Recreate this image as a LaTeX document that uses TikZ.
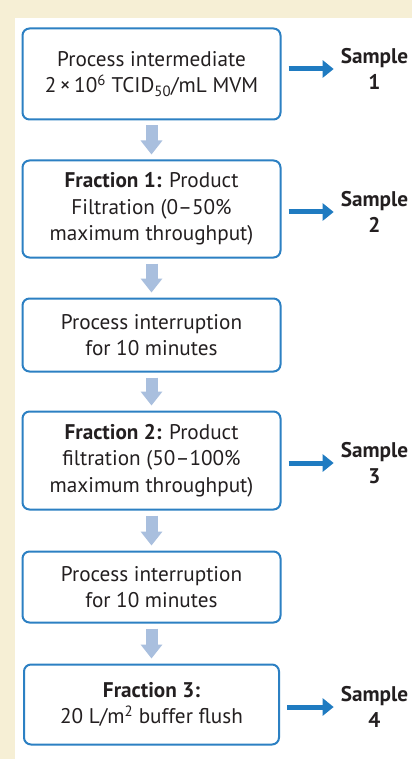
\documentclass[tikz,border=0pt]{standalone}
\usepackage{fontspec}
\setmainfont{PT Sans}
\usetikzlibrary{arrows.meta,calc}
\definecolor{beige}{HTML}{F6EFD5}
\definecolor{boxblue}{HTML}{2C80C3}
\definecolor{arrblue}{HTML}{1F7BC1}
\definecolor{lightarr}{HTML}{A9BFDE}
\definecolor{txt}{HTML}{231F20}
\begin{document}
\begin{tikzpicture}[x=1pt,y=-1pt,
  font=\fontsize{21.2}{26.5}\selectfont,
  procbox/.style={draw=boxblue, line width=2pt, fill=white, rounded corners=7pt,
    minimum width=258pt, align=center, text=txt, inner sep=0pt},
  sample/.style={font=\bfseries\fontsize{21.2}{26}\selectfont, align=center, text=txt, inner sep=0pt},
  samplearrow/.style={draw=arrblue, line width=5pt, -{Triangle[width=17pt,length=11pt]}},
  blockarrow/.style={draw=lightarr, line width=12pt, -{Triangle[width=21pt,length=14pt]}}]
\fill[beige] (0,0) rectangle (412,759);
\fill[white] (15,18) rectangle (412,759);
\useasboundingbox (0,0) rectangle (412,759);

\node[procbox, minimum height=91pt] (b1) at (151.5,74)
  {Process intermediate\\2\,×\,10\textsuperscript{6} TCID\textsubscript{50}/mL MVM};
\node[procbox, minimum height=97pt] (b2) at (151.5,209)
  {\textbf{Fraction 1:} Product\\Filtration (0–50\%\\maximum throughput)};
\node[procbox, minimum height=73pt] (b3) at (151.5,335)
  {Process interruption\\for 10 minutes};
\node[procbox, minimum height=98pt] (b4) at (151.5,460.5)
  {\textbf{Fraction 2:} Product\\filtration (50–100\%\\maximum throughput)};
\node[procbox, minimum height=71pt] (b5) at (151.5,587)
  {Process interruption\\for 10 minutes};
\node[procbox, minimum height=80pt, minimum width=255pt] (b6) at (151.5,704.5)
  {\textbf{Fraction 3:}\\20 L/m\textsuperscript{2} buffer flush};

\foreach \a/\b in {b1/b2,b2/b3,b3/b4,b4/b5,b5/b6}
  \draw[blockarrow] ($(\a.south)+(0,5)$) -- ($(\b.north)+(0,-5)$);

\node[sample] (s1) at (374.5,69) {Sample\\1};
\node[sample] (s2) at (374.5,212) {Sample\\2};
\node[sample] (s3) at (374.5,463) {Sample\\3};
\node[sample] (s4) at (374.5,707) {Sample\\4};

\foreach \a/\s in {b1/s1,b2/s2,b4/s3,b6/s4}
  \draw[samplearrow] ($(\a.east |- \s.west)+(7,0)$) -- ($(\s.west)+(-7,0)$);
\end{tikzpicture}
\end{document}
